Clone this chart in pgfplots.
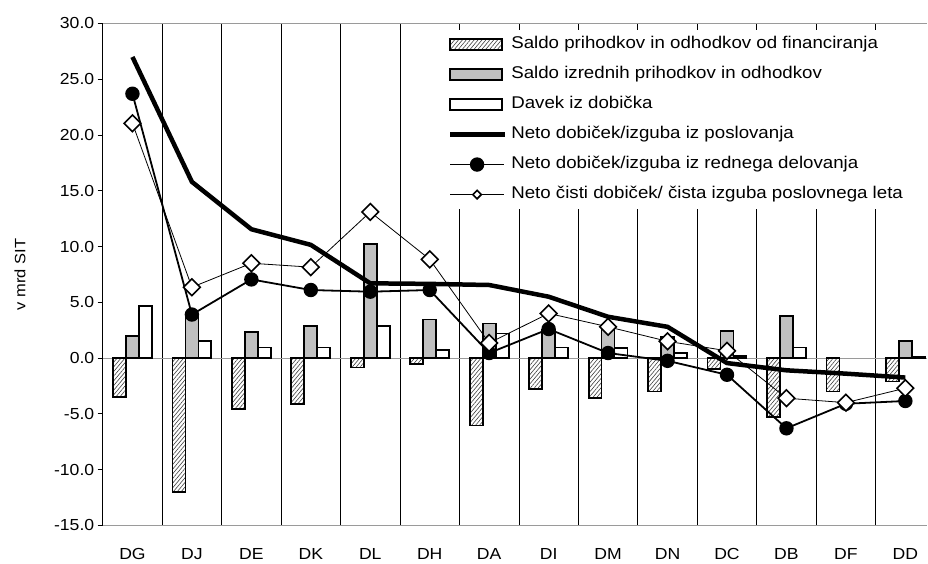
\documentclass[border=0pt]{standalone}
\usepackage{fontspec}
\setmainfont{Liberation Sans}[FakeStretch=1.1]
\usepackage{pgfplots}
\pgfplotsset{compat=1.18}
\usetikzlibrary{patterns.meta}
\definecolor{barsilver}{HTML}{C0C0C0}
\definecolor{frame}{HTML}{9A9A9A}
\newcommand{\chartfont}{\fontsize{16}{18}\selectfont}
\newcommand{\legendfont}{\fontsize{17}{19}\selectfont}
\pgfplotsset{
  barlegend/.style={legend image code/.code={\draw[##1] (0pt,-5.5pt) rectangle (52pt,5.5pt);}},
  linelegend/.style={legend image code/.code={\draw[##1] (0pt,0pt) -- (55pt,0pt);}},
  marklegend/.style={legend image code/.code={\draw[##1, mark repeat=2, mark phase=2] plot coordinates {(0pt,0pt) (27pt,0pt) (54pt,0pt)};}},
  smallmarklegend/.style={legend image code/.code={\draw[##1, mark size=3pt, mark repeat=2, mark phase=2] plot coordinates {(0pt,0pt) (27pt,0pt) (54pt,0pt)};}},
}

\begin{document}
\begin{tikzpicture}
\begin{axis}[
  scale only axis, width=825.2pt, height=502.2pt,
  xmin=-0.5, xmax=13.37, ymin=-15, ymax=30,
  clip=false,
  axis line style={draw=none},
  xtick={0,...,13},
  xticklabels={DG,DJ,DE,DK,DL,DH,DA,DI,DM,DN,DC,DB,DF,DD},
  minor xtick={0.5,1.5,...,12.5},
  xminorgrids, minor grid style={draw=black, line width=0.7pt},
  x tick style={draw=none}, minor x tick style={draw=none},
  ytick={-15,-10,...,30}, ytick pos=left,
  y tick style={draw=black, line width=0.8pt},
  tick align=outside, major tick length=5pt,
  tick label style={font=\chartfont},
  xticklabel style={yshift=-14.5pt},
  yticklabel style={/pgf/number format/.cd, fixed, fixed zerofill, precision=1, assume math mode=true},
  ylabel={v mrd SIT},
  ylabel style={font=\fontsize{15}{17}\selectfont, at={(axis description cs:-0.1003,0.5)}, anchor=center},
  legend cell align=left,
  legend style={at={(rel axis cs:0.4086,0.9871)}, anchor=north west, draw=none, fill=white,
    inner xsep=8pt, inner ysep=7pt, font=\legendfont, row sep=15pt,
    nodes={inner sep=0pt, text height=11.5pt, text depth=3.5pt},
    /tikz/every odd column/.style={column sep=4pt}},
]
\draw[frame, line width=1pt] (axis cs:-0.5,0) -- (axis cs:13.37,0);

% bars: financiranje, izredni, davek
\addplot[ybar, bar width=13pt, bar shift=-13pt, draw=black, line width=1.8pt, fill=white,
  postaction={pattern={Lines[angle=50, distance=3pt, line width=0.6pt]}, pattern color=black!75}, barlegend]
  coordinates {(0,-3.5) (1,-12.0) (2,-4.6) (3,-4.1) (4,-0.85) (5,-0.5) (6,-6.05)
    (7,-2.8) (8,-3.55) (9,-3.0) (10,-1.0) (11,-5.3) (12,-3.0) (13,-2.1)};
\addplot[ybar, bar width=13pt, bar shift=0pt, draw=black, line width=1.8pt, fill=barsilver, barlegend]
  coordinates {(0,2.0) (1,3.7) (2,2.35) (3,2.9) (4,10.25) (5,3.45) (6,3.1)
    (7,2.5) (8,2.6) (9,1.9) (10,2.4) (11,3.8) (13,1.5)};
\addplot[ybar, bar width=13pt, bar shift=13pt, draw=black, line width=1.8pt, fill=white, barlegend]
  coordinates {(0,4.7) (1,1.5) (2,0.95) (3,0.95) (4,2.9) (5,0.75) (6,2.2)
    (7,0.95) (8,0.9) (9,0.45) (10,0.2) (11,0.95) (13,0.1)};

% lines
\addplot[black, line width=4.5pt, line join=round, sharp plot, no markers, linelegend]
  coordinates {(0,27.0) (1,15.8) (2,11.55) (3,10.15) (4,6.7) (5,6.65) (6,6.55)
    (7,5.5) (8,3.7) (9,2.8) (10,-0.45) (11,-1.1) (12,-1.4) (13,-1.75)};
\addplot[black, line width=1.8pt, sharp plot, mark=*, mark size=6.3pt, mark options={fill=black}, marklegend]
  coordinates {(0,23.7) (1,3.9) (2,7.05) (3,6.1) (4,5.95) (5,6.1) (6,0.45)
    (7,2.6) (8,0.45) (9,-0.25) (10,-1.5) (11,-6.3) (12,-4.1) (13,-3.85)};
\addplot[black, line width=0.8pt, sharp plot, mark=square*, mark size=5.9pt,
  mark options={rotate=45, fill=white, line width=1.6pt}, smallmarklegend]
  coordinates {(0,21.05) (1,6.35) (2,8.5) (3,8.15) (4,13.1) (5,8.85) (6,1.35)
    (7,4.0) (8,2.8) (9,1.5) (10,0.65) (11,-3.6) (12,-4.0) (13,-2.7)};

\legend{Saldo prihodkov in odhodkov od financiranja,
  Saldo izrednih prihodkov in odhodkov,
  Davek iz dobička,
  Neto dobiček/izguba iz poslovanja,
  Neto dobiček/izguba iz rednega delovanja,
  Neto čisti dobiček/ čista izguba poslovnega leta}

\draw[frame, line width=1.3pt] (rel axis cs:0,1) -- (rel axis cs:1,1);
\draw[frame, line width=1.3pt] (rel axis cs:0,0) -- (rel axis cs:1,0);
\draw[black, line width=0.9pt] (rel axis cs:0,0) -- (rel axis cs:0,1);
\end{axis}
\path ([shift={(-102.8pt,23.5pt)}]current axis.north west)
  rectangle ([shift={(0pt,-35.3pt)}]current axis.south east);
\end{tikzpicture}
\end{document}
